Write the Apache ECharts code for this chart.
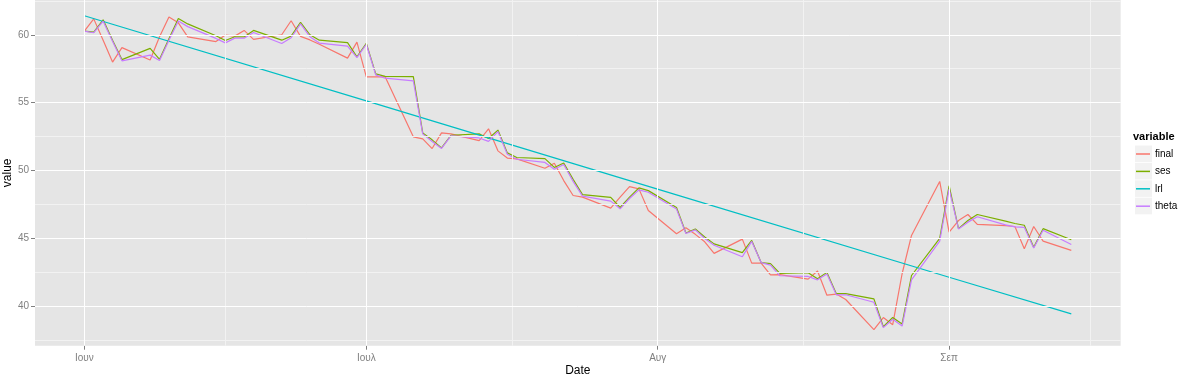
<!DOCTYPE html>
<html><head><meta charset="utf-8">
<script src="https://cdn.jsdelivr.net/npm/echarts@6/dist/echarts.min.js"></script>
<style>html,body{margin:0;padding:0;background:#fff}#c{width:1190px;height:379px}</style>
</head><body><div id="c"></div>
<script>
// ---- data ----
const dates = [
 '2015-06-01','2015-06-02','2015-06-03','2015-06-04','2015-06-05',
 '2015-06-08','2015-06-09','2015-06-10','2015-06-11','2015-06-12',
 '2015-06-15','2015-06-16','2015-06-17','2015-06-18','2015-06-19',
 '2015-06-22','2015-06-23','2015-06-24','2015-06-25','2015-06-26',
 '2015-06-29','2015-06-30','2015-07-01','2015-07-02','2015-07-03',
 '2015-07-06','2015-07-07','2015-07-08','2015-07-09','2015-07-10',
 '2015-07-13','2015-07-14','2015-07-15','2015-07-16','2015-07-17',
 '2015-07-20','2015-07-21','2015-07-22','2015-07-23','2015-07-24',
 '2015-07-27','2015-07-28','2015-07-29','2015-07-30','2015-07-31',
 '2015-08-03','2015-08-04','2015-08-05','2015-08-06','2015-08-07',
 '2015-08-10','2015-08-11','2015-08-12','2015-08-13','2015-08-14',
 '2015-08-17','2015-08-18','2015-08-19','2015-08-20','2015-08-21',
 '2015-08-24','2015-08-25','2015-08-26','2015-08-27','2015-08-28',
 '2015-08-31','2015-09-01','2015-09-02','2015-09-03','2015-09-04',
 '2015-09-07','2015-09-08','2015-09-09','2015-09-10','2015-09-11',
 '2015-09-14'
];
const finalVals = [
 60.27, 61.17, 59.6, 57.99, 59.05,
 58.14, 59.85, 61.3, 60.88, 59.85,
 59.5, 59.98, 59.9, 60.32, 59.66,
 60.0, 61.03, 59.88, 59.62, 59.3,
 58.28, 59.46, 56.9, 56.9, 56.9,
 52.48, 52.33, 51.62, 52.77, 52.7,
 52.2, 53.07, 51.45, 50.92, 50.86,
 50.17, 50.54, 49.26, 48.16, 48.04,
 47.23, 48.04, 48.82, 48.65, 47.06,
 45.34, 45.78, 45.3, 44.75, 43.9,
 44.95, 43.18, 43.19, 42.32, 42.33,
 42.0, 42.6, 40.82, 40.9, 40.5,
 38.28, 39.17, 38.65, 42.4, 45.22,
 49.2, 45.47, 46.32, 46.76, 46.03,
 45.95, 45.88, 44.24, 45.88, 44.8,
 44.12
];
const sesVals = [
 60.27, 60.2, 61.1, 59.6, 58.17,
 59.0, 58.19, 59.7, 61.2, 60.8,
 59.93, 59.58, 59.85, 59.84, 60.32,
 59.6, 59.9, 60.92, 60.0, 59.6,
 59.42, 58.38, 59.37, 57.12, 56.93,
 56.92, 52.77, 52.26, 51.67, 52.6,
 52.7, 52.36, 52.98, 51.3, 50.96,
 50.88, 50.23, 50.56, 49.35, 48.23,
 48.02, 47.28, 48.04, 48.72, 48.52,
 47.28, 45.4, 45.7, 45.1, 44.6,
 43.95, 44.85, 43.22, 43.15, 42.43,
 42.48, 42.03, 42.5, 40.93, 40.93,
 40.55, 38.5, 39.18, 38.7, 42.27,
 45.0, 48.88, 45.72, 46.32, 46.76,
 46.28, 46.1, 45.97, 44.35, 45.72,
 44.9
];
const thetaVals = [
 60.27, 60.15, 61.0, 59.53, 58.08,
 58.5, 58.1, 59.6, 61.02, 60.6,
 59.73, 59.4, 59.75, 59.75, 60.17,
 59.36, 59.78, 60.8, 59.86, 59.39,
 59.17, 58.32, 59.3, 57.05, 56.8,
 56.6, 52.7, 52.14, 51.63, 52.55,
 52.4, 52.15, 52.87, 51.2, 50.83,
 50.6, 50.1, 50.45, 49.2, 48.12,
 47.75, 47.18, 47.94, 48.58, 48.4,
 47.16, 45.36, 45.63, 45.0, 44.5,
 43.65, 44.78, 43.22, 43.04, 42.25,
 42.2, 41.95, 42.38, 40.85, 40.85,
 40.3, 38.43, 39.05, 38.55, 41.95,
 44.8, 48.65, 45.7, 46.2, 46.6,
 46.0, 45.85, 45.82, 44.3, 45.6,
 44.55
];
const lrlDates = ['2015-06-01','2015-07-01','2015-08-03','2015-09-01','2015-09-14'];
const lrlVals  = [61.4, 55.13, 48.21, 42.14, 39.44];

const seriesNames = ['final','ses','lrl','theta'];
const monthTicks  = ['2015-06-01','2015-07-01','2015-08-01','2015-09-01'];
const monthLabels = ['Ιουν','Ιουλ','Αυγ','Σεπ'];
const minorDateTicks = ['2015-06-16T00:00:00Z','2015-07-16T12:00:00Z','2015-08-16T12:00:00Z','2015-09-16T00:00:00Z'];
const yTicks = [40, 45, 50, 55, 60];
const yMinorTicks = [37.5, 42.5, 47.5, 52.5, 57.5, 62.5];
const xRange = ['2015-05-26T18:00:00Z', '2015-09-19T06:00:00Z'];
const yRange = [37.1, 62.56];

// ---- helpers ----
const toTs = s => Date.parse(s.length === 10 ? s + 'T00:00:00Z' : s);
const pairs = (ds, vs) => ds.map((d, i) => [toTs(d), vs[i]]);
const monthTs = monthTicks.map(toTs);

const FONT = '"Liberation Sans", Arial, sans-serif';
const colors = ['#F8766D', '#7CAE00', '#00BFC4', '#C77CFF'];
const majorLine = {color: '#ffffff', width: 1, type: 'solid'};
const minorLine = {color: '#F2F2F2', width: 1, type: 'solid'};
const gridMarks = [].concat(
  yMinorTicks.map(v => ({yAxis: v, lineStyle: minorLine})),
  minorDateTicks.map(d => ({xAxis: toTs(d), lineStyle: minorLine})),
  yTicks.map(v => ({yAxis: v, lineStyle: majorLine})),
  monthTs.map(t => ({xAxis: t, lineStyle: majorLine}))
);

// legend geometry
const legendLeft = 1136, legendTop = 148, legendStep = 17.4;
const keyBoxes = seriesNames.map((n, i) => ({
  type: 'rect', z: 0, silent: true,
  shape: {x: 1135, y: legendTop + 6 - 8.5 + i * legendStep, width: 17, height: 16.6},
  style: {fill: '#F2F2F2'}
}));

const chart = echarts.init(document.getElementById('c'), null, {renderer: 'canvas'});
const lineSeries = (name, data, color) => ({
  name, type: 'line', data, symbol: 'none', showSymbol: false,
  lineStyle: {width: 1.2, color}, itemStyle: {color}, z: 3, animation: false
});

chart.setOption({
  animation: false,
  color: colors,
  textStyle: {fontFamily: FONT},
  title: {text: 'variable', left: 1133, top: 131, padding: 0,
    textStyle: {fontSize: 11, fontWeight: 'bold', color: '#000', fontFamily: FONT}},
  legend: {
    data: seriesNames, orient: 'vertical', left: legendLeft, top: legendTop,
    itemWidth: 14, itemHeight: 1.5, itemGap: legendStep - 12, icon: 'rect',
    selectedMode: false, padding: 0, z: 5,
    textStyle: {fontSize: 10, color: '#000', fontFamily: FONT, lineHeight: 12}
  },
  graphic: keyBoxes,
  grid: {left: 35, right: 69.35, top: 0, bottom: 33.3, show: true,
    backgroundColor: '#E5E5E5', borderWidth: 0, containLabel: false, outerBoundsMode: 'none'},
  xAxis: {
    type: 'value', min: toTs(xRange[0]), max: toTs(xRange[1]),
    axisLine: {show: false},
    axisTick: {show: true, customValues: monthTs, length: 4, lineStyle: {color: '#7F7F7F'}},
    axisLabel: {customValues: monthTs, color: '#7F7F7F', fontSize: 10, margin: 8, fontFamily: FONT,
      formatter: v => { const i = monthTs.indexOf(v); return i >= 0 ? monthLabels[i] : ''; }},
    splitLine: {show: false},
    name: 'Date', nameLocation: 'middle', nameGap: 19, nameMoveOverlap: false,
    nameTextStyle: {color: '#000', fontSize: 12, fontFamily: FONT}
  },
  yAxis: {
    type: 'value', min: yRange[0], max: yRange[1],
    axisLine: {show: false},
    axisTick: {show: true, customValues: yTicks, length: 4, lineStyle: {color: '#7F7F7F'}},
    axisLabel: {customValues: yTicks, color: '#7F7F7F', fontSize: 10, margin: 6, fontFamily: FONT},
    splitLine: {show: false},
    name: 'value', nameLocation: 'middle', nameGap: 21, nameRotate: 90, nameMoveOverlap: false,
    nameTextStyle: {color: '#000', fontSize: 12, fontFamily: FONT}
  },
  series: [
    {name: 'gridlines', type: 'line', data: [[toTs(dates[0]), finalVals[0]]],
     symbol: 'none', lineStyle: {opacity: 0}, z: 1, silent: true,
     markLine: {silent: true, symbol: ['none', 'none'], label: {show: false}, animation: false,
       emphasis: {disabled: true}, data: gridMarks}},
    lineSeries('final', pairs(dates, finalVals), colors[0]),
    lineSeries('ses', pairs(dates, sesVals), colors[1]),
    lineSeries('lrl', pairs(lrlDates, lrlVals), colors[2]),
    lineSeries('theta', pairs(dates, thetaVals), colors[3])
  ]
});
</script></body></html>
